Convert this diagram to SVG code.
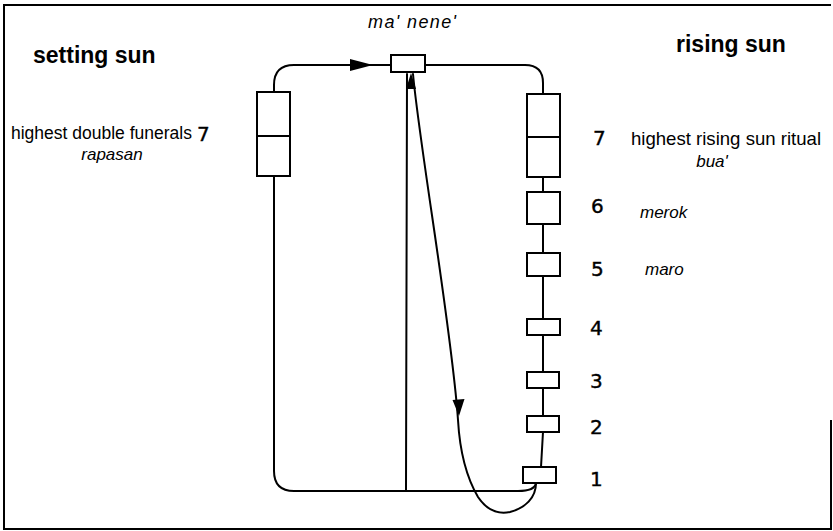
<svg xmlns="http://www.w3.org/2000/svg" width="833" height="531" viewBox="0 0 833 531">
<style>
.box{fill:#fff;stroke:#000;stroke-width:2}
.ln{fill:none;stroke:#000;stroke-width:2;stroke-linecap:round;stroke-linejoin:round}
.head{fill:#000;stroke:none}
.title{font-family:"Liberation Sans",Arial,sans-serif;font-weight:bold;font-size:23px;fill:#000}
.lbl{font-family:"Liberation Sans",Arial,sans-serif;font-size:17.5px;fill:#000}
.it{font-family:"Liberation Sans",Arial,sans-serif;font-style:italic;font-size:17px;fill:#000}
.num{font-family:"DejaVu Sans",sans-serif;font-size:20px;fill:#000;stroke:#000;stroke-width:0.4}
</style>
<path id="frame" d="M831,420 V529 H4 V5 H831" fill="none" stroke="#000" stroke-width="2"/>
<g id="connectors">
<path class="ln" d="M274,92 V85 Q274,65 294,65 H391"/>
<polygon class="head" points="373,65 350,59 350,71"/>
<path class="ln" d="M425,65 H525 Q543,65 543,83 V94"/>
<path class="ln" d="M543,177 V192 M543,224 V253 M543,276 V319 M543,335 V372 M543,388 V416 M543,432 L541,467"/>
<path class="ln" d="M274,176 V471 Q274,491 294,491 H518 C528,491 535,489 536,483"/>
<path class="ln" d="M406,491 L407,74"/>
<polygon class="head" points="411,73 406,89 416,89"/>
<path class="ln" d="M413,74 C420,150 452,330 458,420 C460,455 468,480 478,497 C488,512 500,514 510,512 C525,508 536,498 536,483"/>
<polygon class="head" points="459,416 452.5,400 464.5,399"/>
</g>
<g id="ma-nene">
<rect class="box" x="391" y="55" width="34" height="17"/>
<text class="it" x="368" y="28" style="font-size:18px" textLength="88" lengthAdjust="spacing">ma' nene'</text>
</g>
<g id="setting-sun-label"><text class="title" x="33" y="63">setting sun</text></g>
<g id="rising-sun-label"><text class="title" x="676" y="52">rising sun</text></g>
<g id="left-7">
<rect class="box" x="257" y="92" width="33" height="84"/>
<line x1="257" y1="136" x2="290" y2="136" stroke="#000" stroke-width="2"/>
<text class="lbl" x="11" y="139">highest double funerals</text>
<text class="num" x="197" y="141">7</text>
<text class="it" x="112" y="160" text-anchor="middle">rapasan</text>
</g>
<g id="right-7">
<rect class="box" x="527" y="94" width="33" height="83"/>
<line x1="527" y1="137" x2="560" y2="137" stroke="#000" stroke-width="2"/>
<text class="num" x="593" y="145">7</text>
<text class="lbl" x="726" y="145" text-anchor="middle" style="font-size:18.6px">highest rising sun ritual</text>
<text class="it" x="712" y="167" text-anchor="middle">bua'</text>
</g>
<g id="right-6">
<rect class="box" x="527" y="192" width="33" height="32"/>
<text class="num" x="591" y="213">6</text>
<text class="it" x="640" y="218">merok</text>
</g>
<g id="right-5">
<rect class="box" x="527" y="253" width="33" height="23"/>
<text class="num" x="591" y="276">5</text>
<text class="it" x="645" y="275">maro</text>
</g>
<g id="right-4">
<rect class="box" x="527" y="319" width="33" height="16"/>
<text class="num" x="590" y="335">4</text>
</g>
<g id="right-3">
<rect class="box" x="527" y="372" width="32" height="16"/>
<text class="num" x="590" y="388">3</text>
</g>
<g id="right-2">
<rect class="box" x="527" y="416" width="32" height="16"/>
<text class="num" x="590" y="434">2</text>
</g>
<g id="right-1">
<rect class="box" x="523" y="467" width="33" height="16"/>
<text class="num" x="590" y="486">1</text>
</g>
</svg>
